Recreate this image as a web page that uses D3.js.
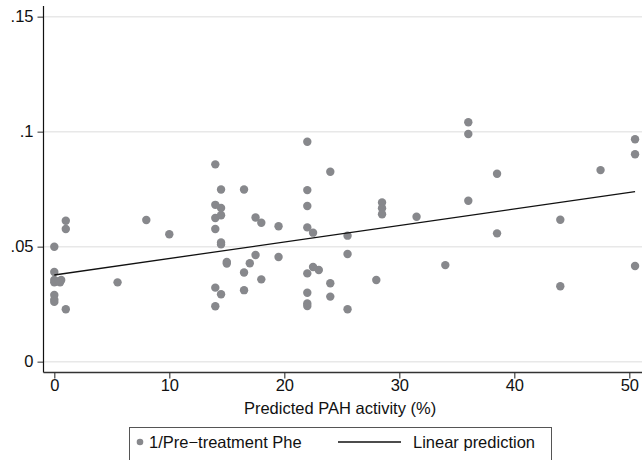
<!DOCTYPE html>
<html>
<head>
<meta charset="utf-8">
<script src="https://cdn.jsdelivr.net/npm/d3@7"></script>
<style>
  html, body { margin: 0; padding: 0; background: #fff; }
  svg { display: block; }
  text { font-family: "Liberation Sans", Arial, Helvetica, sans-serif; fill: #111; }
</style>
</head>
<body>
<svg id="chart" width="642" height="460"></svg>
<script>
// ---- data ----
const pahActivity = [
  0, 0, 0, 0, 0.4, 0.6, 0.5, 0, 0, 0, 1, 1, 1, 5.5, 8, 10,
  14, 14.5, 16.5, 14, 14.5, 14, 14.5, 17.5, 18, 14, 19.5, 14.5, 14.5, 15, 15, 17.5, 17, 16.5, 19.5, 18, 14, 14.5, 16.5, 14,
  22, 24, 22, 22, 22, 22.5, 22, 22.5, 23, 22, 22, 22, 24, 24, 25.5, 25.5, 25.5, 28, 28.5, 28.5, 28.5, 31.5,
  34, 36, 36, 36, 38.5, 38.5, 44, 44, 47.5, 50.5, 50.5, 50.5
];
const invPhe = [
  0.050, 0.039, 0.0355, 0.0345, 0.035, 0.0355, 0.0345, 0.029, 0.027, 0.026, 0.0613, 0.0577, 0.0228, 0.0345, 0.0616, 0.0554,
  0.0858, 0.0749, 0.0749, 0.0682, 0.0668, 0.0625, 0.0637, 0.0627, 0.0604, 0.0577, 0.0589, 0.0518, 0.0510, 0.0434, 0.0427, 0.0464, 0.0428, 0.0388, 0.0455, 0.0358, 0.0322, 0.0293, 0.0311, 0.0241,
  0.0956, 0.0826, 0.0746, 0.0677, 0.0584, 0.0561, 0.0384, 0.0412, 0.0399, 0.0300, 0.0253, 0.0242, 0.0341, 0.0283, 0.0548, 0.0468, 0.0228, 0.0355, 0.0692, 0.0667, 0.0641, 0.0630,
  0.0420, 0.1041, 0.0990, 0.0700, 0.0817, 0.0558, 0.0617, 0.0328, 0.0833, 0.0967, 0.0902, 0.0416
];
// linear prediction (fitted line), read at its two ends
const fitX = [0, 50.5];
const fitY = [0.0377, 0.0739];

const xTicks = [0, 10, 20, 30, 40, 50];
const xTickLabels = ["0", "10", "20", "30", "40", "50"];
const yTicks = [0, 0.05, 0.1, 0.15];
const yTickLabels = ["0", ".05", ".1", ".15"];

const xTitle = "Predicted PAH activity (%)";
const legendLabels = ["1/Pre\u2212treatment Phe", "Linear prediction"];

// ---- layout ----
const svg = d3.select("#chart");
const FONT = 16.5;
const plotLeft = 43.5, plotRight = 642, plotTop = 6, plotBottom = 372.5;
const x = d3.scaleLinear().domain([0, 50]).range([54.3, 629.3]);
const y = d3.scaleLinear().domain([0, 0.15]).range([361.7, 16.7]);

const dotColor = "#87888c";

// gridlines
svg.append("g").selectAll("line").data(yTicks).join("line")
  .attr("x1", plotLeft).attr("x2", plotRight)
  .attr("y1", d => y(d)).attr("y2", d => y(d))
  .attr("stroke", "#e8e8e8").attr("stroke-width", 1.6);

// y axis
const yAxis = d3.axisLeft(y).tickValues(yTicks)
  .tickFormat((d, i) => yTickLabels[i]).tickSize(6).tickPadding(4);
const gy = svg.append("g").attr("transform", `translate(${plotLeft},0)`).call(yAxis);
gy.select(".domain").remove();
gy.selectAll(".tick line").attr("stroke", "#6b6b6b").attr("stroke-width", 1.4);
gy.selectAll(".tick text").style("font-size", FONT + "px")
  .style("font-family", '"Liberation Sans", Arial, sans-serif').attr("fill", "#111");
svg.append("line").attr("x1", plotLeft).attr("x2", plotLeft)
  .attr("y1", plotTop).attr("y2", plotBottom).attr("stroke", "#111").attr("stroke-width", 1.2);

// x axis
const xAxis = d3.axisBottom(x).tickValues(xTicks)
  .tickFormat((d, i) => xTickLabels[i]).tickSize(6).tickPadding(1);
const gx = svg.append("g").attr("transform", `translate(0,${plotBottom})`).call(xAxis);
gx.select(".domain").remove();
gx.selectAll(".tick line").attr("stroke", "#444").attr("stroke-width", 1.2);
gx.selectAll(".tick text").style("font-size", FONT + "px")
  .style("font-family", '"Liberation Sans", Arial, sans-serif').attr("fill", "#111");
svg.append("line").attr("x1", plotLeft).attr("x2", plotRight)
  .attr("y1", plotBottom).attr("y2", plotBottom).attr("stroke", "#333").attr("stroke-width", 1.4);

// points
const pts = pahActivity.map((d, i) => ({ x: d, y: invPhe[i] }));
svg.append("g").selectAll("circle").data(pts).join("circle")
  .attr("cx", d => x(d.x)).attr("cy", d => y(d.y)).attr("r", 4.2)
  .attr("fill", dotColor);

// fitted line
const fit = fitX.map((d, i) => ({ x: d, y: fitY[i] }));
svg.append("path").datum(fit)
  .attr("d", d3.line().x(d => x(d.x)).y(d => y(d.y)))
  .attr("fill", "none").attr("stroke", "#111").attr("stroke-width", 1.3);

// x title
svg.append("text").attr("x", 340).attr("y", 414).attr("text-anchor", "middle")
  .style("font-size", FONT + "px").text(xTitle);

// legend
const lg = svg.append("g");
lg.append("rect").attr("x", 129.5).attr("y", 427.5).attr("width", 422).attr("height", 50)
  .attr("fill", "#fff").attr("stroke", "#555").attr("stroke-width", 1);
lg.append("circle").attr("cx", 140).attr("cy", 442).attr("r", 3.3).attr("fill", dotColor);
lg.append("text").attr("x", 149).attr("y", 448).style("font-size", FONT + "px").text(legendLabels[0]);
lg.append("line").attr("x1", 338).attr("x2", 401).attr("y1", 442).attr("y2", 442)
  .attr("stroke", "#111").attr("stroke-width", 1.3);
lg.append("text").attr("x", 413).attr("y", 448).style("font-size", FONT + "px").text(legendLabels[1]);
</script>
</body>
</html>
